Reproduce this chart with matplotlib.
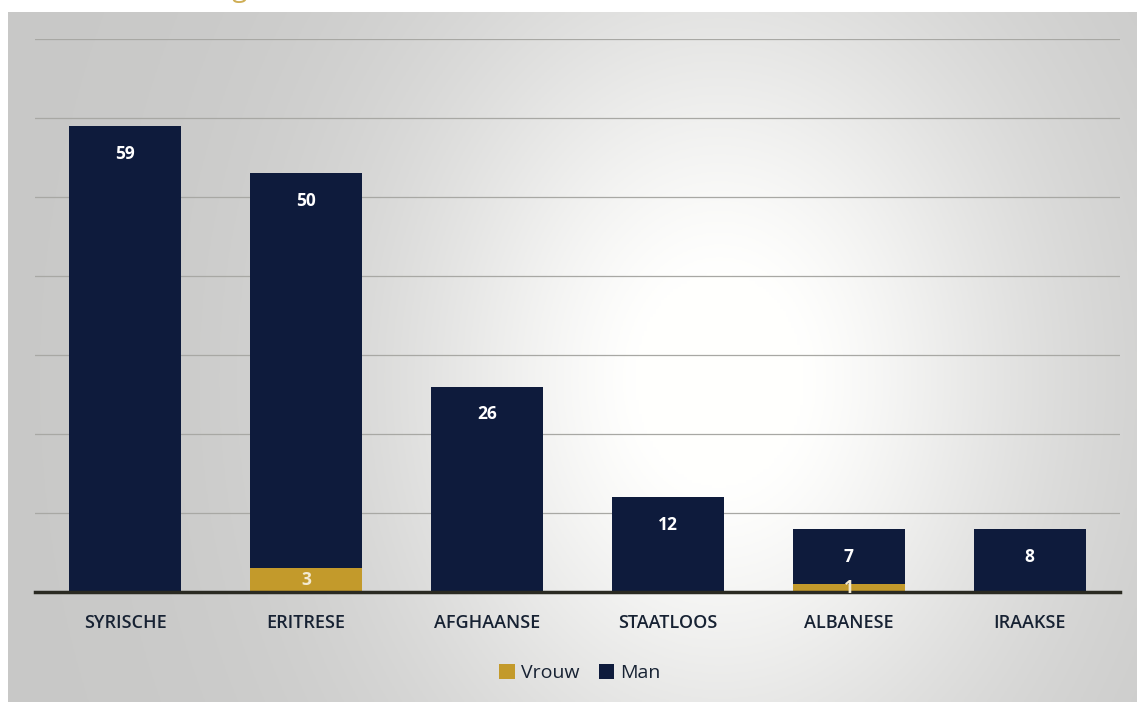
import numpy as np
import matplotlib
matplotlib.use("Agg")
import matplotlib.pyplot as plt

# data
categories = ["SYRISCHE", "ERITRESE", "AFGHAANSE", "STAATLOOS", "ALBANESE", "IRAAKSE"]
vrouw = [0, 3, 0, 0, 1, 0]
man = [59, 50, 26, 12, 7, 8]

GOLD = "#c39a2b"
NAVY = "#0e1b3c"
TEXT = "#172233"

plt.rcParams["font.family"] = ["Open Sans", "DejaVu Sans"]

fig = plt.figure(figsize=(11.37, 7.02), dpi=100)
W, H = 1137, 702

# photographed-slide background: grey panel with a bright spot
bg = fig.add_axes([8 / W, 0, 1 - 8 / W, 1 - 12 / H])
xx, yy = np.meshgrid(np.linspace(8, W, 400), np.linspace(12, H, 250))
glow = np.exp(-((xx - 720) / 330) ** 2 - ((yy - 380) / 420) ** 2)
v = np.clip(0.785 + 0.23 * glow, 0, 1)
img = np.dstack([v, v, v * 0.995])
bg.imshow(img, aspect="auto", extent=[0, 1, 0, 1], origin="upper")
bg.axis("off")

# gold title, cropped off at the very top of the photo
fig.text(0.0, 1 + 4 / H, "Nationaliteit naar geslacht", color=GOLD,
         fontsize=20, va="baseline", ha="left", alpha=0.8)

ax = fig.add_axes([35 / W, 1 - 592 / H, (1120 - 35) / W, (592 - 39) / H])
ax.set_facecolor("none")
x = np.arange(len(categories))
width = 0.62
ax.bar(x, vrouw, width, color=GOLD, label="Vrouw", zorder=3)
ax.bar(x, man, width, bottom=vrouw, color=NAVY, label="Man", zorder=3)

ax.set_xlim(-0.5, len(categories) - 0.5)
ax.set_ylim(0, 70)
ax.set_yticks(np.arange(0, 71, 10))
ax.yaxis.grid(True, color="#a8a8a4", linewidth=0.9, zorder=0)
ax.tick_params(axis="y", left=False, labelleft=False)
ax.tick_params(axis="x", length=0, pad=16, labelsize=13, labelcolor=TEXT)
ax.set_xticks(x)
ax.set_xticklabels(categories, fontweight="semibold")
for s in ["top", "right", "left"]:
    ax.spines[s].set_visible(False)
ax.spines["bottom"].set_color("#2a2a22")
ax.spines["bottom"].set_linewidth(2.5)
ax.spines["bottom"].set_zorder(4)

# value labels
for i in range(len(categories)):
    if man[i]:
        ax.annotate(str(man[i]), (x[i], vrouw[i] + man[i]), xytext=(0, -20),
                    textcoords="offset points", ha="center", va="center",
                    color="white", fontsize=12.5, fontweight="bold", zorder=5)
    if vrouw[i]:
        ax.annotate(str(vrouw[i]), (x[i], vrouw[i] / 2), ha="center", va="center",
                    color="#f3ead2", fontsize=12.5, fontweight="bold", zorder=5)

fig.legend(loc="center", bbox_to_anchor=(580 / W, 1 - 673 / H), ncol=2,
           frameon=False, fontsize=14, handlelength=0.8, handleheight=0.8,
           handletextpad=0.3, columnspacing=1.0, labelcolor=TEXT)

fig.savefig("out.png", dpi=100)
